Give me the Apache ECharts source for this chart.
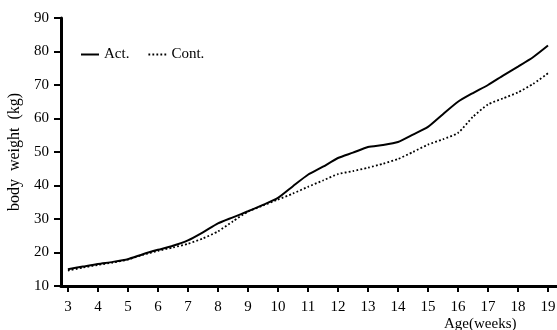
<!DOCTYPE html>
<html>
<head>
<meta charset="utf-8">
<script src="https://cdn.jsdelivr.net/npm/echarts@6/dist/echarts.min.js"></script>
<style>html,body{margin:0;padding:0;background:#fff}#c{width:557px;height:330px}</style>
</head>
<body>
<div id="c"></div>
<script>
const weeks = [3,3.5,4,4.5,5,5.5,6,6.5,7,7.5,8,8.5,9,9.5,10,10.5,11,11.5,12,12.5,13,13.5,14,14.5,15,15.5,16,16.5,17,17.5,18,18.5,19];
const actValues = [15.0,15.8,16.6,17.2,18.0,19.5,20.8,22.0,23.6,26.0,28.7,30.5,32.3,34.2,36.3,39.8,43.2,45.6,48.2,49.8,51.5,52.1,53.0,55.2,57.5,61.3,65.0,67.6,70.0,72.8,75.5,78.3,81.8];
const contValues = [14.6,15.5,16.3,17.0,17.9,19.3,20.5,21.5,22.6,24.2,26.3,29.3,32.2,34.0,35.8,37.6,39.6,41.5,43.4,44.3,45.3,46.5,47.9,50.0,52.2,53.8,55.7,60.5,64.2,66.0,67.8,70.3,73.5];
const xTicks = [3,4,5,6,7,8,9,10,11,12,13,14,15,16,17,18,19];
const seriesNames = ['Act.','Cont.'];

const font = 'Liberation Serif';
const chart = echarts.init(document.getElementById('c'), null, {renderer:'canvas'});
chart.setOption({
  animation:false,
  backgroundColor:'#fff',
  grid:{left:61,right:0,top:18,bottom:44,containLabel:false,outerBoundsMode:'none'},
  legend:{
    left:75, top:42, itemWidth:18, itemHeight:10, itemGap:18,
    itemStyle:{opacity:0},
    textStyle:{fontFamily:font,fontSize:15,color:'#000'},
    data:seriesNames
  },
  xAxis:{
    type:'value', min:2.77, max:19.3,
    axisLine:{lineStyle:{color:'#000',width:3}},
    axisTick:{show:true,customValues:xTicks,length:6,lineStyle:{color:'#000',width:2}},
    axisLabel:{customValues:xTicks,fontFamily:font,fontSize:15,color:'#000',margin:14},
    splitLine:{show:false}
  },
  yAxis:{
    type:'value', min:10, max:90, interval:10,
    name:'body  weight  (kg)', nameLocation:'middle', nameGap:36,
    nameTextStyle:{fontFamily:font,fontSize:16,color:'#000'},
    axisLine:{show:true,lineStyle:{color:'#000',width:3}},
    axisTick:{show:true,length:7,lineStyle:{color:'#000',width:2}},
    axisLabel:{fontFamily:font,fontSize:15,color:'#000',margin:12},
    splitLine:{show:false}
  },
  graphic:[{
    type:'text', left:444, top:317,
    style:{text:'Age(weeks)',font:'15px "Liberation Serif"',fill:'#000'}
  }],
  series:[
    {name:seriesNames[0],type:'line',symbol:'none',smooth:0.2,
     data:weeks.map((w,i)=>[w,actValues[i]]),
     lineStyle:{color:'#000',width:2,type:'solid'},itemStyle:{color:'#000'}},
    {name:seriesNames[1],type:'line',symbol:'none',smooth:0.2,
     data:weeks.map((w,i)=>[w,contValues[i]]),
     lineStyle:{color:'#000',width:1.8,type:[1.8,2.2]},itemStyle:{color:'#000'}}
  ]
});
</script>
</body>
</html>
